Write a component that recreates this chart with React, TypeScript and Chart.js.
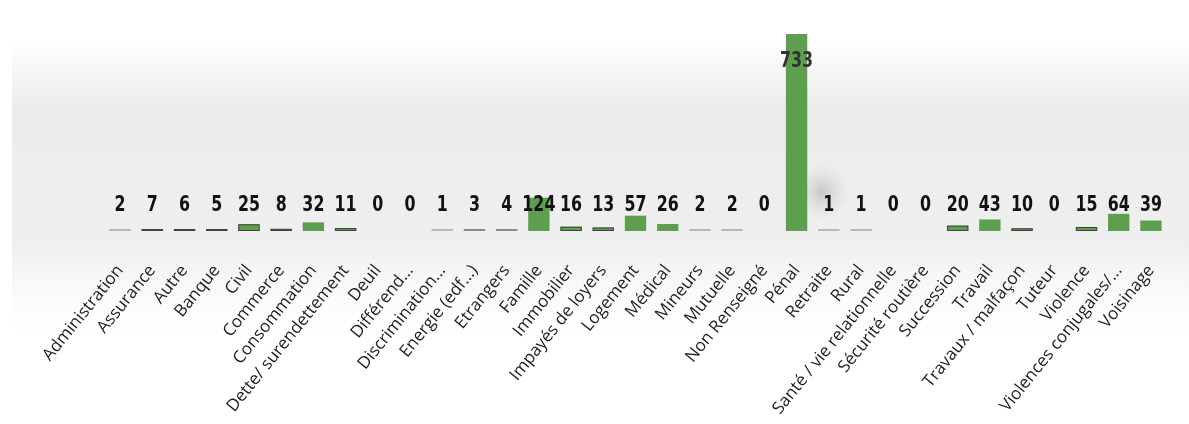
import React, { useEffect, useRef } from "react";
import { Chart, registerables } from "chart.js";

Chart.register(...registerables);

const categories = [
  "Administration", "Assurance", "Autre", "Banque", "Civil", "Commerce",
  "Consommation", "Dette/ surendettement", "Deuil", "Différend...",
  "Discrimination...", "Energie (edf...)", "Etrangers", "Famille",
  "Immobilier", "Impayés de loyers", "Logement", "Médical", "Mineurs",
  "Mutuelle", "Non Renseigné", "Pénal", "Retraite", "Rural",
  "Santé / vie relationnelle", "Sécurité routière", "Succession", "Travail",
  "Travaux / malfaçon", "Tuteur", "Violence", "Violences conjugales/...",
  "Voisinage",
];

const values = [
  2, 7, 6, 5, 25, 8, 32, 11, 0, 0, 1, 3, 4, 124, 16, 13, 57, 26, 2, 2, 0,
  733, 1, 1, 0, 0, 20, 43, 10, 0, 15, 64, 39,
];

const GREEN = "#5d9f4e";

const backgroundPlugin = {
  id: "bgPlugin",
  beforeDraw(chart: any) {
    const { ctx, width, height } = chart;
    ctx.save();
    ctx.fillStyle = "#ffffff";
    ctx.fillRect(0, 0, width, height);
    const g = ctx.createLinearGradient(0, 0, 0, 340);
    g.addColorStop(0, "rgba(236,236,236,0)");
    g.addColorStop(0.12, "rgba(236,236,236,0)");
    g.addColorStop(0.32, "rgba(236,236,236,1)");
    g.addColorStop(0.72, "rgba(239,239,239,1)");
    g.addColorStop(0.86, "rgba(246,246,246,0.6)");
    g.addColorStop(1, "rgba(255,255,255,0)");
    ctx.fillStyle = g;
    ctx.fillRect(12, 0, width - 12, 340);
    const r = ctx.createRadialGradient(822, 192, 0, 822, 192, 28);
    r.addColorStop(0, "rgba(170,170,170,0.55)");
    r.addColorStop(1, "rgba(200,200,200,0)");
    ctx.fillStyle = r;
    ctx.fillRect(790, 160, 64, 64);
    ctx.restore();
  },
};

const outlinePlugin = {
  id: "smallBarOutline",
  afterDatasetsDraw(chart: any) {
    const { ctx } = chart;
    const meta = chart.getDatasetMeta(0);
    ctx.save();
    meta.data.forEach((el: any, i: number) => {
      const v = values[i];
      if (v <= 0 || v > 25) return;
      const left = el.x - el.width / 2;
      const h = Math.max(el.base - el.y, 2);
      ctx.strokeStyle = v <= 2 ? "#b8b8b8" : v <= 4 ? "#8a8a8a" : "#404040";
      ctx.lineWidth = 1;
      ctx.strokeRect(left + 0.5, el.base - h + 0.5, el.width - 1, h - 1);
    });
    ctx.restore();
  },
};

const labelPlugin = {
  id: "valueLabels",
  afterDatasetsDraw(chart: any) {
    const { ctx, chartArea } = chart;
    const meta = chart.getDatasetMeta(0);
    ctx.save();
    ctx.textAlign = "center";
    ctx.textBaseline = "middle";
    ctx.font = "bold 22px 'DejaVu Sans', sans-serif";
    meta.data.forEach((el: any, i: number) => {
      const v = values[i];
      let y = chartArea.bottom - 26;
      if (v > 300) {
        y = el.y + 27;
        ctx.fillStyle = "#333333";
      } else {
        ctx.fillStyle = "#111111";
      }
      ctx.save();
      ctx.translate(el.x, y);
      ctx.scale(0.72, 1);
      ctx.fillText(String(v), 0, 0);
      ctx.restore();
    });
    ctx.restore();
  },
};

export default function App() {
  const ref = useRef<HTMLCanvasElement | null>(null);
  useEffect(() => {
    document.body.style.margin = "0";
    const chart = new Chart(ref.current as HTMLCanvasElement, {
      type: "bar",
      data: {
        labels: categories,
        datasets: [
          {
            data: values,
            backgroundColor: GREEN,
            borderWidth: 0,
            barPercentage: 0.72,
            categoryPercentage: 0.92,
          },
        ],
      },
      options: {
        responsive: false,
        animation: false,
        layout: { padding: { top: 34, left: 104, right: 14, bottom: 0 } },
        plugins: { legend: { display: false }, tooltip: { enabled: false } },
        scales: {
          y: { display: false, min: 0, max: 733 },
          x: {
            grid: { display: false },
            border: { display: false },
            afterFit: (scale: any) => {
              scale.height = 193;
            },
            ticks: {
              autoSkip: false,
              maxRotation: 51,
              minRotation: 51,
              padding: 22,
              color: "#1e1e1e",
              font: { family: "'Open Sans', sans-serif", size: 17 },
            },
          },
        },
      },
      plugins: [backgroundPlugin, outlinePlugin, labelPlugin],
    });
    return () => chart.destroy();
  }, []);
  return (
    <div style={{ width: 1189, height: 424 }}>
      <canvas ref={ref} width={1189} height={424} />
    </div>
  );
}
